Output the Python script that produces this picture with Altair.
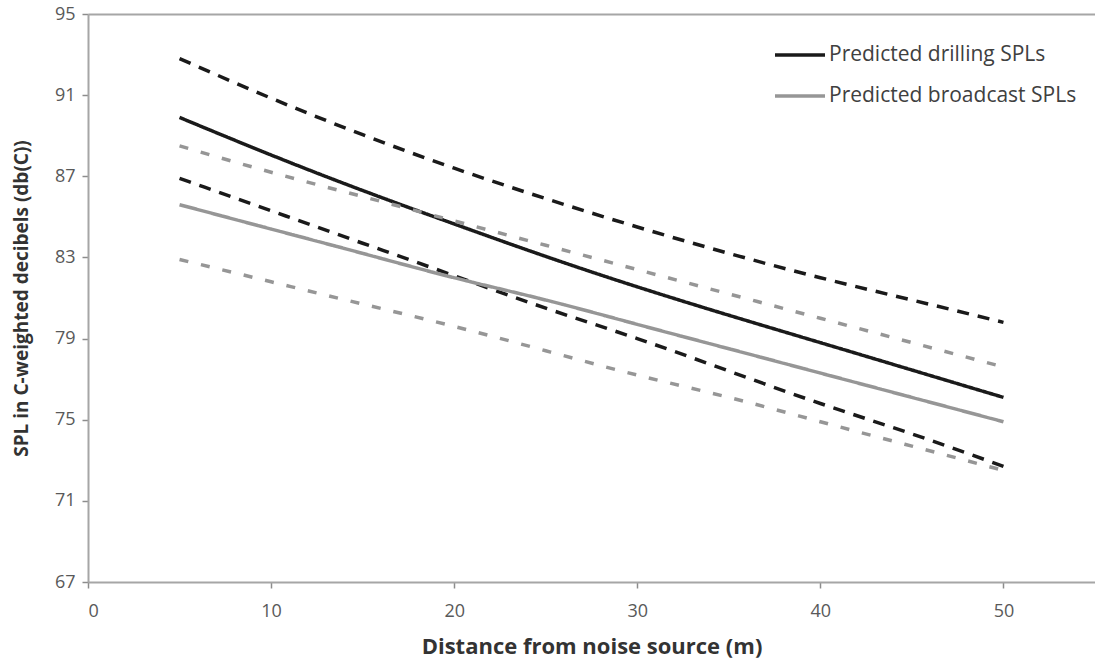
import altair as alt
import pandas as pd

distance = [5, 10, 15, 20, 25, 30, 35, 40, 45, 50]

drill_fit = [89.9, 88.05, 86.3, 84.65, 83.05, 81.55, 80.15, 78.8, 77.45, 76.1]
drill_upper = [92.8, 90.85, 89.05, 87.4, 85.9, 84.5, 83.2, 82.0, 80.9, 79.8]
drill_lower = [86.9, 85.3, 83.7, 82.1, 80.5, 79.0, 77.4, 75.8, 74.3, 72.7]

broad_fit = [85.6, 84.4, 83.2, 82.0, 80.9, 79.7, 78.5, 77.3, 76.1, 74.9]
broad_upper = [88.5, 87.2, 86.0, 84.8, 83.6, 82.4, 81.2, 80.0, 78.8, 77.6]
broad_lower = [82.9, 81.8, 80.7, 79.6, 78.4, 77.2, 76.1, 74.9, 73.7, 72.5]

series_names = ["Predicted drilling SPLs", "Predicted broadcast SPLs"]
y_ticks = [67, 71, 75, 79, 83, 87, 91, 95]
x_ticks = [0, 10, 20, 30, 40, 50]

rows = []
curves = [
    ("d_fit", series_names[0], "solid", drill_fit),
    ("d_up", series_names[0], "dashA", drill_upper),
    ("d_lo", series_names[0], "dashA", drill_lower),
    ("b_fit", series_names[1], "solid", broad_fit),
    ("b_up", series_names[1], "dashB", broad_upper),
    ("b_lo", series_names[1], "dashB", broad_lower),
]
for cid, ser, dash, vals in curves:
    for xv, yv in zip(distance, vals):
        rows.append({"x": xv, "y": yv, "series": ser, "dash": dash, "curve": cid})
df = pd.DataFrame(rows)

FONT = "Open Sans"

x_scale = alt.Scale(domain=[0, 55], nice=False, zero=False)
y_scale = alt.Scale(domain=[67, 95], nice=False, zero=False)

y_axis = alt.Axis(values=y_ticks, title="SPL in C-weighted decibels (db(C))",
                  grid=False, domainColor="#a6a6a6", domainWidth=2,
                  tickColor="#8c8c8c", tickSize=6, tickWidth=1.5,
                  labelColor="#595959", labelFontSize=18, labelFont=FONT,
                  labelPadding=7, titleFont=FONT, titleFontSize=19,
                  titleFontWeight="bold", titleColor="#333333",
                  titlePadding=23)

lines = alt.Chart(df).mark_line(strokeWidth=3.5, interpolate="natural").encode(
    x=alt.X("x:Q", scale=x_scale,
            axis=alt.Axis(values=x_ticks, title="Distance from noise source (m)",
                          grid=False, domainColor="#a6a6a6", domainWidth=2,
                          tickColor="#8c8c8c", tickSize=6, tickWidth=1.5,
                          labelColor="#595959", labelFontSize=18, labelFont=FONT,
                          labelPadding=14, titleFont=FONT, titleFontSize=22,
                          titleFontWeight="bold", titleColor="#333333",
                          titlePadding=16)),
    y=alt.Y("y:Q", scale=y_scale, axis=y_axis),
    color=alt.Color("series:N",
                    scale=alt.Scale(domain=series_names, range=["#1a1a1a", "#969696"]),
                    legend=alt.Legend(title=None, orient="none", legendX=685, legendY=14,
                                      symbolType="stroke", symbolSize=2500,
                                      symbolStrokeWidth=3.5, labelFont=FONT,
                                      labelFontSize=21, labelColor="#404040",
                                      labelLimit=0, labelOffset=2, rowPadding=4,
                                      padding=0)),
    strokeDash=alt.StrokeDash("dash:N",
                              scale=alt.Scale(domain=["solid", "dashA", "dashB"],
                                              range=[[1, 0], [12, 9], [9, 13]]),
                              legend=None),
    detail="curve:N",
)

top_line = alt.Chart(df).mark_line(opacity=0).encode(
    x=alt.X("x:Q", scale=x_scale,
            axis=alt.Axis(orient="top", labels=False, ticks=False, title=None,
                          grid=False, domainColor="#a6a6a6", domainWidth=2)),
    y=alt.Y("y:Q", scale=y_scale, axis=y_axis),
    detail="curve:N",
)

chart = alt.layer(lines, top_line).resolve_axis(x="independent").properties(
    width=1007, height=568,
    autosize=alt.AutoSizeParams(type="none"),
    padding={"left": 88, "top": 14, "right": 0, "bottom": 80},
    background="white",
).configure_view(stroke=None)

chart.save("out.html", embed_options={"renderer": "svg", "actions": False})
